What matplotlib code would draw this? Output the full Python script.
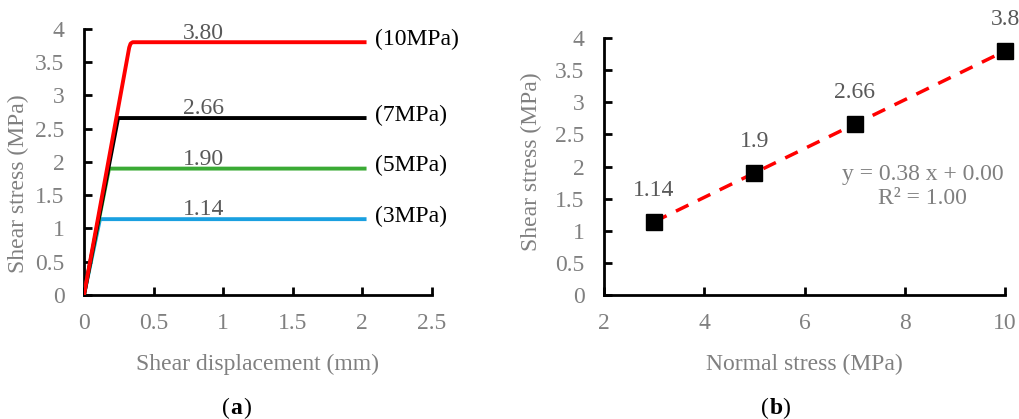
import matplotlib; matplotlib.use("Agg"); import matplotlib.pyplot as plt
import numpy as np

plt.rcParams['font.family'] = ['Liberation Serif', 'DejaVu Serif']
GRAY = '#808080'
FS = 17

# (a) shear stress vs shear displacement
labels_a = ['(10MPa)', '(7MPa)', '(5MPa)', '(3MPa)']
colors_a = ['#ff0000', '#000000', '#3aaa35', '#1aa0e0']
peak_x = [0.35, 0.245, 0.18, 0.115]
peak_y = [3.80, 2.66, 1.90, 1.14]
end_x = 2.03

# (b) shear stress vs normal stress
normal = [3, 5, 7, 10]
shear = [1.14, 1.9, 2.66, 3.8]
shear_lbl = ['1.14', '1.9', '2.66', '3.8']

fig = plt.figure(figsize=(10.19, 4.19), dpi=100)

def style(ax):
    for s in ('top', 'right'): ax.spines[s].set_visible(False)
    for s in ('left', 'bottom'): ax.spines[s].set_linewidth(2)
    ax.tick_params(direction='in', length=6, width=2, colors='black',
                   labelcolor=GRAY, labelsize=FS)
    ax.tick_params(axis='x', pad=13)
    ax.tick_params(axis='y', pad=14)

ax1 = fig.add_axes([0.0824, 0.296, 0.3415, 0.635])
for i in [3, 2, 1, 0]:
    xs = [0, peak_x[i], end_x]; ys = [0, peak_y[i], peak_y[i]]
    if i == 0:
        xs = [0, 0.325, 0.335, 0.35, end_x]; ys = [0, 3.72, 3.78, 3.80, 3.80]
    ax1.plot(xs, ys, color=colors_a[i], lw=2.8, solid_capstyle='butt', zorder=3 + (i == 0))
    ax1.text(0.86, peak_y[i] - 0.02, f"{peak_y[i]:.2f}", color='#595959', fontsize=FS,
             ha='center', va='bottom')
    ax1.text(2.09, peak_y[i] + 0.04, labels_a[i], color='black', fontsize=FS,
             ha='left', va='center', clip_on=False)
ax1.set_xlim(0, 2.5); ax1.set_ylim(0, 4)
ax1.set_xticks(np.arange(0, 2.51, 0.5)); ax1.set_xticklabels(['0', '0.5', '1', '1.5', '2', '2.5'])
ax1.set_yticks(np.arange(0, 4.01, 0.5)); ax1.set_yticklabels(['0', '0.5', '1', '1.5', '2', '2.5', '3', '3.5', '4'])
style(ax1)
ax1.set_xlabel('Shear displacement (mm)', color=GRAY, fontsize=FS, labelpad=14)
ax1.set_ylabel('Shear stress (MPa)', color=GRAY, fontsize=FS)
ax1.yaxis.set_label_coords(-0.158, 0.42)

ax2 = fig.add_axes([0.5927, 0.296, 0.3936, 0.613])
fit = np.polyfit(normal, shear, 1)
xf = np.array([normal[0], normal[-1]])
ax2.plot(xf, np.polyval(fit, xf), color='#ff0000', lw=2.5, ls=(0, (4, 3)), zorder=2)
ax2.plot(normal, shear, 's', ms=11, color='black', zorder=3, clip_on=False)
for x, y, t in zip(normal, shear, shear_lbl):
    ax2.text(x, y + 0.33, t, color='#595959', fontsize=FS, ha='center', va='bottom', clip_on=False)
ax2.text(8.35, 1.69, f"y = {fit[0]:.2f} x + {abs(fit[1]):.2f}\nR² = 1.00", color=GRAY,
         fontsize=FS, ha='center', va='center', linespacing=1.15)
ax2.set_xlim(2, 10); ax2.set_ylim(0, 4)
ax2.set_xticks([2, 4, 6, 8, 10])
ax2.set_yticks(np.arange(0, 4.01, 0.5)); ax2.set_yticklabels(['0', '0.5', '1', '1.5', '2', '2.5', '3', '3.5', '4'])
style(ax2)
ax2.set_xlabel('Normal stress (MPa)', color=GRAY, fontsize=FS, labelpad=14)
ax2.set_ylabel('Shear stress (MPa)', color=GRAY, fontsize=FS)
ax2.yaxis.set_label_coords(-0.155, 0.52)

for cx, letter in [(0.226, 'a'), (0.755, 'b')]:
    fig.text(cx, 0.026, '(', fontsize=FS, ha='right', va='center')
    fig.text(cx, 0.026, letter, fontsize=FS, ha='left', va='center', weight='bold')
    fig.text(cx + 0.0125, 0.026, ')', fontsize=FS, ha='left', va='center')

fig.savefig('out.png', dpi=100, facecolor='white')
